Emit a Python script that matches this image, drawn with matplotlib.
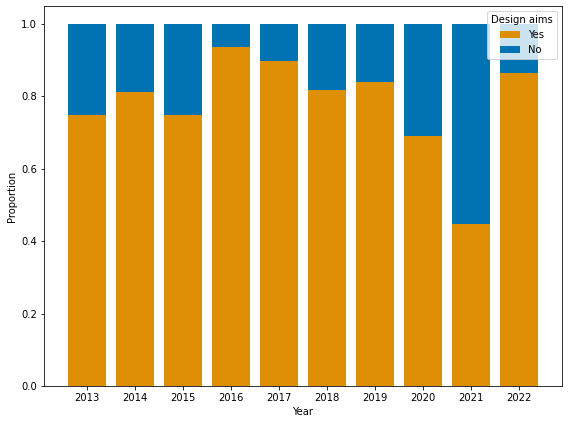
import matplotlib
matplotlib.use("Agg")
import matplotlib.pyplot as plt
import numpy as np

years = ["2013", "2014", "2015", "2016", "2017", "2018", "2019", "2020", "2021", "2022"]
yes = [0.75, 0.8125, 0.75, 0.9375, 0.8987, 0.8182, 0.84, 0.6905, 0.4483, 0.8636]
no = [1 - v for v in yes]

fig, ax = plt.subplots(figsize=(568/72, 424/72), dpi=72)
x = np.arange(len(years))
ax.bar(x, yes, width=0.8, color="#DE8F05", label="Yes")
ax.bar(x, no, width=0.8, bottom=yes, color="#0173B2", label="No")
ax.set_xticks(x)
ax.set_xticklabels(years)
ax.set_xlabel("Year")
ax.set_ylabel("Proportion")
ax.legend(title="Design aims", loc="upper right")
fig.subplots_adjust(left=0.0775, right=0.989, top=0.986, bottom=0.0896)
fig.savefig("out.png", dpi=72)
